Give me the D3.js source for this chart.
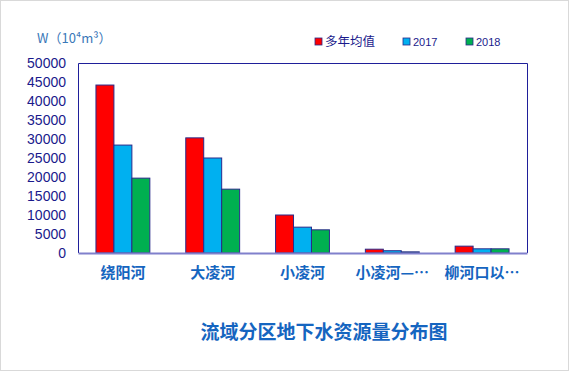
<!DOCTYPE html>
<html>
<head>
<meta charset="utf-8">
<script src="https://cdn.jsdelivr.net/npm/d3@7"></script>
<style>
  html, body { margin: 0; padding: 0; background: #fff; }
  svg { display: block; }
</style>
</head>
<body>
<svg id="chart"></svg>
<script>
const categories = ['绕阳河', '大凌河', '小凌河', '小凌河—…', '柳河口以…']
const seriesNames = ['多年均值', '2017', '2018']
const avgValues = [44200, 30300, 10000, 1000, 1800]
const values2017 = [28400, 25000, 6800, 600, 1100]
const values2018 = [19700, 16800, 6100, 300, 1100]
const yTicks = [0, 5000, 10000, 15000, 20000, 25000, 30000, 35000, 40000, 45000, 50000]
const colors = ['#ff0000', '#00b0f0', '#00b050']

const width = 569
const height = 371
const margin = { top: 63, right: 42, bottom: 118, left: 78 }

const svg = d3.select('#chart')
  .attr('width', width)
  .attr('height', height)

// outer frame
svg.append('rect')
  .attr('x', 0.5).attr('y', 0.5)
  .attr('width', width - 1).attr('height', height - 1)
  .attr('fill', '#fff')
  .attr('stroke', '#d9d9d9')

const x = d3.scaleBand()
  .domain(categories)
  .range([margin.left, width - margin.right])
  .paddingInner(0.4)
  .paddingOuter(0.2)

const xSub = d3.scaleBand()
  .domain(seriesNames)
  .range([0, x.bandwidth()])

const y = d3.scaleLinear()
  .domain([0, 50000])
  .range([height - margin.bottom, margin.top])

const series = [avgValues, values2017, values2018]
const rows = categories.map((c, i) => ({ cat: c, vals: series.map(s => s[i]) }))

// bars
const groups = svg.append('g')
  .selectAll('g')
  .data(rows)
  .join('g')
  .attr('transform', d => `translate(${x(d.cat)},0)`)

groups.selectAll('rect')
  .data(d => d.vals.map((v, k) => ({ key: seriesNames[k], v, k })))
  .join('rect')
  .attr('x', d => xSub(d.key))
  .attr('y', d => y(d.v))
  .attr('width', xSub.bandwidth())
  .attr('height', d => y(0) - y(d.v))
  .attr('fill', d => colors[d.k])
  .attr('stroke', '#2a2a8a')
  .attr('stroke-width', 1)

// plot frame (left, top, right)
const x0 = margin.left, x1 = width - margin.right
const yTop = margin.top, yBot = height - margin.bottom
svg.append('path')
  .attr('d', `M${x0 + 0.5},${yBot}V${yTop + 0.5}H${x1 + 0.5}V${yBot}`)
  .attr('fill', 'none')
  .attr('stroke', '#1f1f9a')
  .attr('stroke-width', 1)

// y axis labels
const yAxis = d3.axisLeft(y)
  .tickValues(yTicks)
  .tickFormat(d3.format('d'))
  .tickSize(0)
  .tickPadding(12)
const gy = svg.append('g')
  .attr('transform', `translate(${x0},0)`)
  .call(yAxis)
gy.select('.domain').remove()
gy.selectAll('text')
  .attr('fill', '#1a1a8c')
  .style('font-family', '"Liberation Sans", Arial, sans-serif')
  .style('font-size', '14px')

// x axis
const xAxis = d3.axisBottom(x).tickSize(0).tickPadding(14)
const gx = svg.append('g')
  .attr('transform', `translate(0,${yBot})`)
  .call(xAxis)
gx.select('.domain')
  .attr('stroke', '#8080cc')
  .attr('stroke-width', 2)
gx.selectAll('text')
  .attr('fill', '#1565c0')
  .style('font-family', '"Noto Sans CJK SC", sans-serif')
  .style('font-weight', 'bold')
  .style('font-size', '15px')

// axis unit label
svg.append('text')
  .attr('x', 37).attr('y', 43)
  .attr('fill', '#3a78b8')
  .style('font-family', '"Noto Sans CJK SC", sans-serif')
  .style('font-size', '13px')
  .text('W（10⁴m³）')

// legend
const legendX = [315, 403, 466]
const legend = svg.append('g')
  .selectAll('g')
  .data(seriesNames)
  .join('g')
  .attr('transform', (d, i) => `translate(${legendX[i]},42)`)
legend.append('rect')
  .attr('x', 0).attr('y', -4)
  .attr('width', 7).attr('height', 7)
  .attr('fill', (d, i) => colors[i])
  .attr('stroke', '#2a2a8a')
  .attr('stroke-width', 0.8)
legend.append('text')
  .attr('x', 10).attr('y', 4)
  .attr('fill', '#1a1a8c')
  .style('font-family', (d, i) => i === 0 ? '"Noto Sans CJK SC", sans-serif' : '"Liberation Sans", Arial, sans-serif')
  .style('font-size', (d, i) => i === 0 ? '12.5px' : '11px')
  .text(d => d)

// title
svg.append('text')
  .attr('x', 324).attr('y', 339)
  .attr('text-anchor', 'middle')
  .attr('fill', '#1565c0')
  .style('font-family', '"Noto Sans CJK SC", sans-serif')
  .style('font-weight', 'bold')
  .style('font-size', '19px')
  .text('流域分区地下水资源量分布图')
</script>
</body>
</html>
